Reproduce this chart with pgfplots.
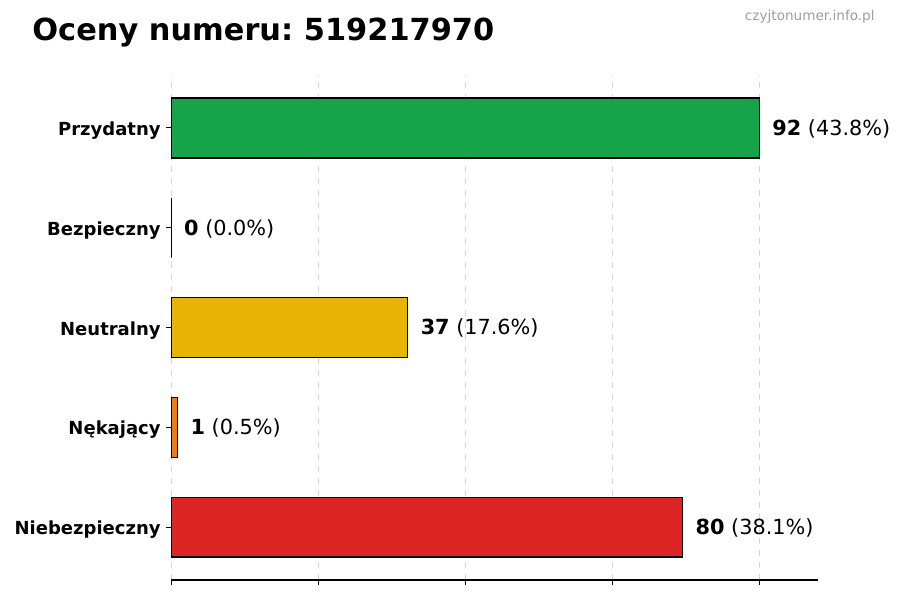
\documentclass[border=0pt]{standalone}
\usepackage{fontspec}
\setmainfont{DejaVu Sans}
\usepackage{pgfplots}
\pgfplotsset{compat=1.18}

\definecolor{cgreen}{HTML}{16A34A}
\definecolor{cblue}{HTML}{2563EB}
\definecolor{cyellow}{HTML}{EAB308}
\definecolor{corange}{HTML}{EA7A1E}
\definecolor{cred}{HTML}{DC2626}

\begin{document}
\frenchspacing
\begin{tikzpicture}
% 1 px of the 900x600 reference = 0.5pt
\begin{scope}[x=0.5pt,y=-0.5pt]
  \path[use as bounding box] (0,0) rectangle (900,600);
  \node[anchor=base west, inner sep=0pt, font=\fontsize{15.2}{18}\selectfont\bfseries] at (32,40) {Oceny numeru: 519217970};
  \node[anchor=east, inner sep=0pt, text=black!38, font=\fontsize{6.8}{8}\selectfont] at (875,17) {czyjtonumer.info.pl};
\end{scope}

\begin{axis}[
    at={(85.5pt,-290pt)}, anchor=south west,
    scale only axis,
    width=323.5pt, height=252.5pt,
    xbar, bar shift=0pt, bar width=0.6,
    xmin=0, xmax=101.2,
    ymin=-0.531, ymax=4.531,
    axis x line*=bottom, axis y line*=left,
    x axis line style={line width=0.55pt},
    y axis line style={draw=none},
    tick align=outside,
    major tick length=2.5pt,
    tick style={black, line width=0.5pt},
    xtick={0,23,46,69,92}, xticklabels={},
    ytick={0,1,2,3,4},
    yticklabels={Niebezpieczny,Nękający,Neutralny,Bezpieczny,Przydatny},
    yticklabel style={inner sep=0pt, xshift=-2.5pt, yshift=-1.3pt,
        font=\fontsize{9}{10}\selectfont\bfseries},
    xmajorgrids,
    grid style={dashed, black!16, line width=0.4pt},
    nodes near coords,
    point meta=explicit symbolic,
    every node near coord/.append style={anchor=west, inner sep=0pt, xshift=6.3pt,
        yshift=-0.4pt, text=black, font=\fontsize{10.4}{12}\selectfont},
]
\addplot[fill=cgreen, draw=black, line width=0.6pt]
    coordinates {(92,4) [{\textbf{92} (43.8\%)}]};
\addplot[fill=cblue, draw=black, line width=0.6pt]
    coordinates {(0,3) [{\textbf{0} (0.0\%)}]};
\addplot[fill=cyellow, draw=black, line width=0.6pt]
    coordinates {(37,2) [{\textbf{37} (17.6\%)}]};
\addplot[fill=corange, draw=black, line width=0.6pt]
    coordinates {(1,1) [{\textbf{1} (0.5\%)}]};
\addplot[fill=cred, draw=black, line width=0.6pt]
    coordinates {(80,0) [{\textbf{80} (38.1\%)}]};
\end{axis}
\end{tikzpicture}
\end{document}
